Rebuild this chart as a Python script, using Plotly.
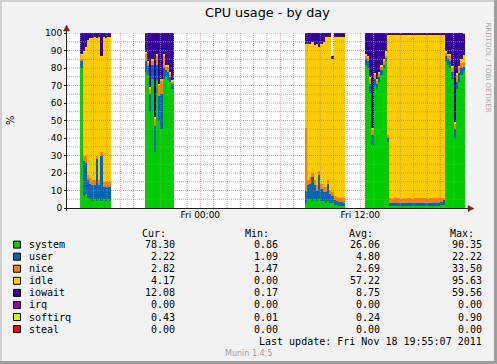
import plotly.graph_objects as go
from datetime import datetime, timedelta

# ---------------- data (10-minute samples) ----------------
segment_starts = ["2011-11-17 15:00", "2011-11-17 19:50", "2011-11-18 07:50",
                  "2011-11-18 12:20", "2011-11-18 14:00", "2011-11-18 18:20"]
segment_lengths = [14, 13, 18, 10, 26, 9]

system = [80, 7, 8, 6, 5, 4, 5, 4, 5, 4, 5, 4, 5, 4,
          78, 76, 55, 74, 32, 73, 50, 45, 74, 75, 73, 72, 68,
          3, 5, 5, 4, 5, 4, 5, 4, 4, 3, 4, 3, 3, 1.5, 1.5, 1.2, 1.2, 1.2,
          82, 80, 66, 36, 70, 68, 72, 76, 80, 84,
          38, 1.3, 1.2, 1.4, 1.3, 1.2, 1.3, 1.4, 1.2, 1.3, 1.3, 1.2, 1.4, 1.3, 1.2, 1.3,
          1.4, 1.3, 1.2, 1.3, 1.4, 1.3, 1.2, 1.3, 1.5, 2.0,
          84, 82, 80, 74, 40, 68, 72, 76, 78.3]
user = [4, 20, 18, 10, 9, 9, 8, 24, 8, 26, 7, 8, 7, 8,
        6, 5, 10, 8, 15, 9, 14, 20, 6, 4, 5, 3, 3,
        7, 8, 9, 14, 8, 6, 14, 7, 5, 6, 10, 5, 4, 3, 2.5, 2, 2, 1.8,
        3, 4, 5, 6, 4, 3, 3, 3, 2, 2,
        2, 1.6, 1.5, 1.7, 1.5, 1.6, 1.5, 1.6, 1.5, 1.6, 1.5, 1.6, 1.5, 1.6, 1.5, 1.6,
        1.5, 1.6, 1.5, 1.6, 1.5, 1.6, 1.5, 1.6, 1.8, 3.0,
        3, 3, 4, 4, 5, 4, 5, 4, 2.2]
nice = [1, 3, 4, 3, 3, 3, 3, 2, 3, 2, 3, 3, 3, 3,
        4, 2, 3, 2, 4, 5, 6, 8, 7, 2, 3, 2, 1,
        36, 3, 4, 2, 3, 3, 2, 3, 3, 3, 2, 2, 2, 2.5, 2.5, 2.8, 2.8, 3,
        2, 2, 3, 3, 2, 2, 2, 2, 2, 1,
        2, 2.8, 2.6, 3.0, 2.7, 3.1, 2.5, 2.9, 2.7, 3.0, 2.8, 2.6, 3.0, 2.8, 3.1, 2.7,
        2.9, 3.0, 2.6, 2.9, 2.8, 2.7, 3.0, 2.8, 2.6, 1.0,
        2, 2, 3, 2, 3, 4, 3, 3, 2.8]
idle = [3, 60, 62, 77, 80, 81, 82, 67, 82, 55, 83, 82, 83, 83,
        1, 1, 1, 1, 1, 1, 1, 1, 1, 1, 1, 1, 1,
        48, 78, 76, 75, 77, 81, 71, 80, 83, 86, 82, 88, 76, 91, 91.5, 92, 92, 92,
        1, 1, 1, 1, 1, 1, 1, 1, 1, 3,
        57, 93.7, 94.1, 93.3, 93.9, 93.5, 94.1, 93.5, 94.0, 93.5, 93.8, 94.0, 93.5, 93.7, 93.6, 93.8,
        93.6, 93.5, 94.1, 93.6, 93.7, 93.8, 93.7, 93.7, 93.5, 93.4,
        1, 1, 1, 1, 1, 1, 1, 2, 4.2]
iowait = [12, 10, 8, 4, 3, 3, 2, 3, 2, 13, 2, 3, 2, 2,
          11, 16, 31, 15, 48, 12, 29, 26, 12, 18, 18, 22, 27,
          6, 6, 6, 5, 7, 6, 8, 6, 5, 2, 2, 2, 2, 2, 2, 2, 2, 2,
          12, 13, 25, 54, 23, 26, 22, 18, 15, 10,
          1, 0.6, 0.6, 0.6, 0.6, 0.6, 0.6, 0.6, 0.6, 0.6, 0.6, 0.6, 0.6, 0.6, 0.6, 0.6,
          0.6, 0.6, 0.6, 0.6, 0.6, 0.6, 0.6, 0.6, 0.6, 0.6,
          10, 12, 12, 19, 51, 23, 19, 15, 12.1]
irq = [0] * 90
softirq = [0.2, 0.2, 0.2, 0.2, 0.2, 0.2, 0.2, 0.2, 0.2, 0.2, 0.2, 0.2, 0.2, 0.2,
           0.5, 0.5, 0.5, 0.5, 0.5, 0.5, 0.5, 0.5, 0.5, 0.5, 0.5, 0.5, 0.5,
           0.2, 0.2, 0.2, 0.2, 0.2, 0.2, 0.2, 0.2, 0.2, 0.2, 0.2, 0.2, 0.2, 0.2, 0.2, 0.2, 0.2, 0.2,
           0.5, 0.5, 0.5, 0.5, 0.5, 0.5, 0.5, 0.5, 0.5, 0.5,
           0.1, 0.1, 0.1, 0.1, 0.1, 0.1, 0.1, 0.1, 0.1, 0.1, 0.1, 0.1, 0.1, 0.1, 0.1, 0.1,
           0.1, 0.1, 0.1, 0.1, 0.1, 0.1, 0.1, 0.1, 0.1, 0.1,
           0.5, 0.5, 0.5, 0.5, 0.5, 0.5, 0.5, 0.5, 0.43]
steal = [0] * 90

series_names = ["system", "user", "nice", "idle", "iowait", "irq", "softirq", "steal"]
series_colors = ["#00CC00", "#0066B3", "#FF8000", "#FFCC00", "#330099", "#990099", "#CCFF00", "#FF0000"]
stat_cur = [78.30, 2.22, 2.82, 4.17, 12.08, 0.00, 0.43, 0.00]
stat_min = [0.86, 1.09, 1.47, 0.00, 0.17, 0.00, 0.01, 0.00]
stat_avg = [26.06, 4.80, 2.69, 57.22, 8.75, 0.00, 0.24, 0.00]
stat_max = [90.35, 22.22, 33.50, 95.63, 59.56, 0.00, 0.90, 0.00]

x_tick_vals = ["2011-11-18 00:00", "2011-11-18 12:00"]
x_tick_text = ["Fri 00:00", "Fri 12:00"]
y_tick_vals = [0, 10, 20, 30, 40, 50, 60, 70, 80, 90, 100]

title_text = "CPU usage - by day"
last_update = "Last update: Fri Nov 18 19:55:07 2011"
t_start = datetime(2011, 11, 17, 14, 0)
t_end = datetime(2011, 11, 18, 20, 0)

# ---------------- build ----------------
STEP = timedelta(minutes=10)
times = []
for s, n in zip(segment_starts, segment_lengths):
    t0 = datetime.strptime(s, "%Y-%m-%d %H:%M")
    for i in range(n):
        times.append((t0 + STEP * i + STEP / 2).strftime("%Y-%m-%d %H:%M:%S"))

all_series = [system, user, nice, idle, iowait, irq, softirq, steal]

W, H = 497, 364
L, R, T, B = 67, 467, 33, 208


def X(px):
    return (px - L) / (R - L)


def Y(py):
    return (B - py) / (B - T)


fig = go.Figure()
for name, color, vals in zip(series_names, series_colors, all_series):
    fig.add_trace(go.Bar(x=times, y=vals, name=name, width=600000,
                         marker=dict(color=color, line=dict(width=0)),
                         hoverinfo="skip"))

SANS = "DejaVu Sans"
MONO = "DejaVu Sans Mono"
AXIS = "#1F1F1F"
ARROW = "#801F1F"
GRID = "rgba(143,143,143,0.75)"
MGRID = "rgba(222,79,79,0.6)"

shapes = []
# grid (drawn above the areas, as rrdtool does)
h = t_start + timedelta(hours=1)
while h < t_end:
    major = (h.hour % 6 == 0)
    shapes.append(dict(type="line", xref="x", yref="paper", x0=h, x1=h, y0=0, y1=1,
                       line=dict(color=MGRID if major else GRID, width=1, dash="1px,1px"),
                       layer="above"))
    h += timedelta(hours=1)
for v in range(5, 101, 5):
    major = (v % 10 == 0)
    shapes.append(dict(type="line", xref="paper", yref="y", x0=0, x1=1, y0=v, y1=v,
                       line=dict(color=MGRID if major else GRID, width=1, dash="1px,1px"),
                       layer="above"))

# axes with arrows
shapes.append(dict(type="line", xref="paper", yref="paper", x0=X(64), x1=X(469), y0=Y(208.5), y1=Y(208.5),
                   line=dict(color=AXIS, width=1), layer="above"))
shapes.append(dict(type="line", xref="paper", yref="paper", x0=X(66.5), x1=X(66.5), y0=Y(211), y1=Y(30),
                   line=dict(color=AXIS, width=1), layer="above"))
shapes.append(dict(type="path", xref="paper", yref="paper",
                   path=f"M {X(468)} {Y(205.5)} L {X(474)} {Y(208.5)} L {X(468)} {Y(211.5)} Z",
                   fillcolor=ARROW, line=dict(color=ARROW, width=0.5), layer="above"))
shapes.append(dict(type="path", xref="paper", yref="paper",
                   path=f"M {X(63.5)} {Y(31)} L {X(66.5)} {Y(25)} L {X(69.5)} {Y(31)} Z",
                   fillcolor=ARROW, line=dict(color=ARROW, width=0.5), layer="above"))

# frame shading
shapes.append(dict(type="line", xref="paper", yref="paper", x0=X(0), x1=X(W), y0=Y(1), y1=Y(1),
                   line=dict(color="#CFCFCF", width=2), layer="above"))
shapes.append(dict(type="line", xref="paper", yref="paper", x0=X(1), x1=X(1), y0=Y(0), y1=Y(H),
                   line=dict(color="#CFCFCF", width=2), layer="above"))
shapes.append(dict(type="line", xref="paper", yref="paper", x0=X(0), x1=X(W), y0=Y(H - 1.5), y1=Y(H - 1.5),
                   line=dict(color="#9E9E9E", width=3), layer="above"))
shapes.append(dict(type="line", xref="paper", yref="paper", x0=X(W - 1.5), x1=X(W - 1.5), y0=Y(0), y1=Y(H),
                   line=dict(color="#9E9E9E", width=3), layer="above"))

annotations = []


def text(px, py, s, size, family=SANS, anchor="left", color="#000000", angle=0):
    annotations.append(dict(x=X(px), y=Y(py), xref="paper", yref="paper", text=s,
                            showarrow=False, xanchor=anchor, yanchor="middle",
                            textangle=angle, font=dict(family=family, size=size, color=color)))


text(267.5, 13, title_text, 12.8, anchor="center")
text(10, 120, "%", 10, anchor="center", angle=-90)
text(487.5, 67, "RRDTOOL / TOBI OETIKER", 7, anchor="center", color="#A8A8A8", angle=90)

# legend table
header_y = 233
text(140, header_y, "Cur:", 10, MONO)
text(243, header_y, "Min:", 10, MONO)
text(347, header_y, "Avg:", 10, MONO)
text(448, header_y, "Max:", 10, MONO)
row_h = 12.07
for i, name in enumerate(series_names):
    yy = 244.6 + row_h * i
    shapes.append(dict(type="rect", xref="paper", yref="paper",
                       x0=X(13.5), x1=X(20.5), y0=Y(yy - 3.5), y1=Y(yy + 3.5),
                       fillcolor=series_colors[i], line=dict(color="#000000", width=1), layer="above"))
    text(27, yy, name, 10, MONO)
    text(176.5, yy, f"{stat_cur[i]:.2f}", 10, MONO, anchor="right")
    text(279.5, yy, f"{stat_min[i]:.2f}", 10, MONO, anchor="right")
    text(381.5, yy, f"{stat_avg[i]:.2f}", 10, MONO, anchor="right")
    text(483.5, yy, f"{stat_max[i]:.2f}", 10, MONO, anchor="right")
text(483.5, 341, last_update, 10, MONO, anchor="right")
text(248.5, 353.5, "Munin 1.4.5", 8, anchor="center", color="#A0A0A0")

fig.update_layout(
    width=W, height=H, autosize=False,
    margin=dict(l=L, r=W - R, t=T, b=H - B, pad=0),
    paper_bgcolor="#F2F2F2", plot_bgcolor="#FFFFFF",
    barmode="stack", bargap=0, showlegend=False,
    shapes=shapes, annotations=annotations,
    xaxis=dict(type="date", range=[t_start, t_end], showgrid=False, zeroline=False,
               showline=False, tickvals=x_tick_vals, ticktext=x_tick_text,
               ticks="", tickfont=dict(family=SANS, size=9, color="#000000"),
               fixedrange=True),
    yaxis=dict(range=[0, 100], showgrid=False, zeroline=False, showline=False,
               tickvals=y_tick_vals, ticks="outside", ticklen=2, tickcolor=AXIS,
               tickfont=dict(family=SANS, size=9, color="#000000"), fixedrange=True),
)

fig.write_html("out.html", config={"displayModeBar": False},
               post_script="document.body.style.margin='0';document.body.style.overflow='hidden';")
